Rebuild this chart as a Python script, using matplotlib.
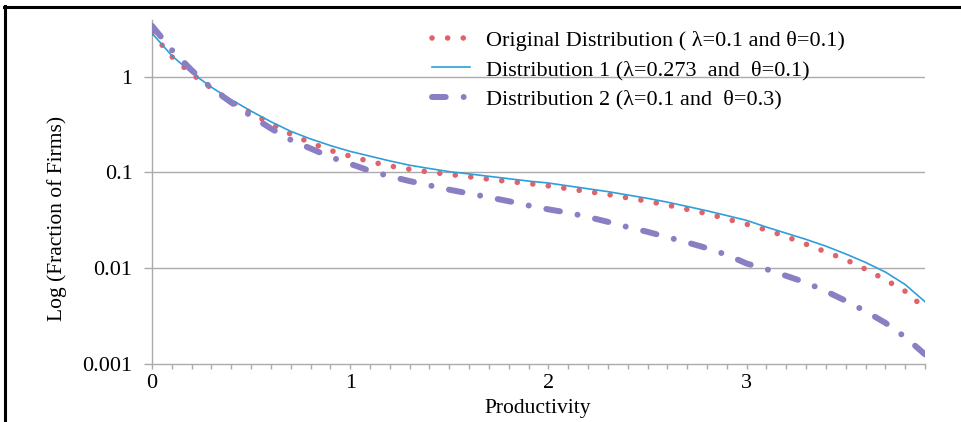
import matplotlib
matplotlib.use('Agg')
import matplotlib.pyplot as plt
from matplotlib.lines import Line2D
from matplotlib.ticker import FixedLocator, NullLocator

plt.rcParams['font.family'] = ['Liberation Serif', 'DejaVu Serif']

productivity = [0.0, 0.1, 0.2, 0.3, 0.4, 0.5, 0.6, 0.7, 0.8, 0.9,
                1.0, 1.1, 1.2, 1.3, 1.4, 1.5, 1.6, 1.7, 1.8, 1.9,
                2.0, 2.1, 2.2, 2.3, 2.4, 2.5, 2.6, 2.7, 2.8, 2.9,
                3.0, 3.1, 3.2, 3.3, 3.4, 3.5, 3.6, 3.7, 3.8, 3.9]

original = [2.84, 1.62, 1.07, 0.759, 0.550, 0.417, 0.324, 0.251, 0.204, 0.170,
            0.148, 0.130, 0.117, 0.108, 0.101, 0.0955, 0.0902, 0.0851, 0.0804, 0.0767,
            0.0724, 0.0676, 0.0631, 0.0589, 0.0543, 0.0501, 0.0457, 0.0412, 0.0372, 0.0327,
            0.0288, 0.0251, 0.0214, 0.0178, 0.0148, 0.0123, 0.00977, 0.00759, 0.00575, 0.00380]

dist1 = [2.84, 1.66, 1.10, 0.776, 0.575, 0.437, 0.339, 0.269, 0.224, 0.191,
         0.166, 0.148, 0.132, 0.119, 0.110, 0.102, 0.0966, 0.0912, 0.0861, 0.0813,
         0.0776, 0.0724, 0.0676, 0.0631, 0.0582, 0.0537, 0.0490, 0.0442, 0.0398, 0.0355,
         0.0316, 0.0269, 0.0232, 0.0200, 0.0170, 0.0141, 0.0115, 0.00912, 0.00676, 0.00447]

dist2 = [3.40, 1.90, 1.17, 0.759, 0.537, 0.389, 0.288, 0.219, 0.178, 0.145,
         0.123, 0.104, 0.0912, 0.0813, 0.0733, 0.0661, 0.0603, 0.0550, 0.0501, 0.0452,
         0.0412, 0.0380, 0.0343, 0.0305, 0.0269, 0.0240, 0.0211, 0.0186, 0.0162, 0.0138,
         0.0112, 0.00977, 0.00832, 0.00708, 0.00575, 0.00457, 0.00355, 0.00269, 0.00191, 0.00126]

labels = ["Original Distribution ( \u03bb=0.1 and \u03b8=0.1)",
          "Distribution 1 (\u03bb=0.273  and  \u03b8=0.1)",
          "Distribution 2 (\u03bb=0.1 and  \u03b8=0.3)"]

y_ticks = [0.001, 0.01, 0.1, 1]
y_ticklabels = ["0.001", "0.01", "0.1", "1"]
x_ticks = [0, 1, 2, 3]
x_ticklabels = ["0", "1", "2", "3"]

RED = '#E0626A'
BLUE = '#2F9FD8'
PURPLE = '#8B7FC3'
GRAY = '#ABABAB'
FS = 16

fig = plt.figure(figsize=(9.62, 4.22), dpi=100)
ax = fig.add_axes([152/962, 1 - 364/422, (925 - 152)/962, (364 - 20)/422])
ax.set_yscale('log')

l0, = ax.plot(productivity, original, color=RED, lw=4.0, linestyle=(0, (0.01, 2.8)),
              dash_capstyle='round', zorder=3)
l1, = ax.plot(productivity, dist1, color=BLUE, lw=1.2, zorder=4)
l2, = ax.plot(productivity, dist2, color=PURPLE, lw=4.3,
              linestyle=(0, (2.3, 3.0, 0.01, 3.0)), dash_capstyle='round', zorder=5)

ax.set_xlim(0, 3.9)
ax.set_ylim(0.001, 3.91)

ax.yaxis.set_major_locator(FixedLocator(y_ticks))
ax.set_yticklabels(y_ticklabels)
ax.yaxis.set_minor_locator(NullLocator())
ax.xaxis.set_major_locator(FixedLocator(x_ticks))
ax.set_xticklabels(x_ticklabels)
ax.xaxis.set_minor_locator(FixedLocator([i / 10 for i in range(40)]))

ax.tick_params(axis='y', which='major', direction='out', length=6, width=1,
               color=GRAY, labelsize=FS, pad=8)
ax.tick_params(axis='x', which='both', direction='out', length=3.5, width=1,
               color=GRAY, labelsize=FS, pad=4)

for t in y_ticks[1:]:
    ax.axhline(t, color=GRAY, lw=1, zorder=1)

for s in ['top', 'right']:
    ax.spines[s].set_visible(False)
for s in ['left', 'bottom']:
    ax.spines[s].set_color(GRAY)
    ax.spines[s].set_linewidth(1)

fig.text(538/962, 1 - 408/422, "Productivity", ha='center', va='center', fontsize=15.5)
fig.text(57/962, 1 - 218/422, "Log (Fraction of Firms)", ha='center', va='center',
         rotation=90, fontsize=15.5)

leg = fig.legend([l0, l1, l2], labels, loc='upper left',
                 bbox_to_anchor=(432/962, 1 - 30/422), frameon=False,
                 fontsize=FS, handlelength=1.7, handletextpad=0.72,
                 labelspacing=0.4, borderpad=0, borderaxespad=0)

# figure border (top and left visible)
fig.add_artist(Line2D([5/962, 5/962], [0, 1 - 6/422], transform=fig.transFigure,
                      color='black', lw=2.2))
fig.add_artist(Line2D([4/962, 1], [1 - 7/422, 1 - 7/422], transform=fig.transFigure,
                      color='black', lw=2.2))

fig.savefig('out.png', dpi=100)
